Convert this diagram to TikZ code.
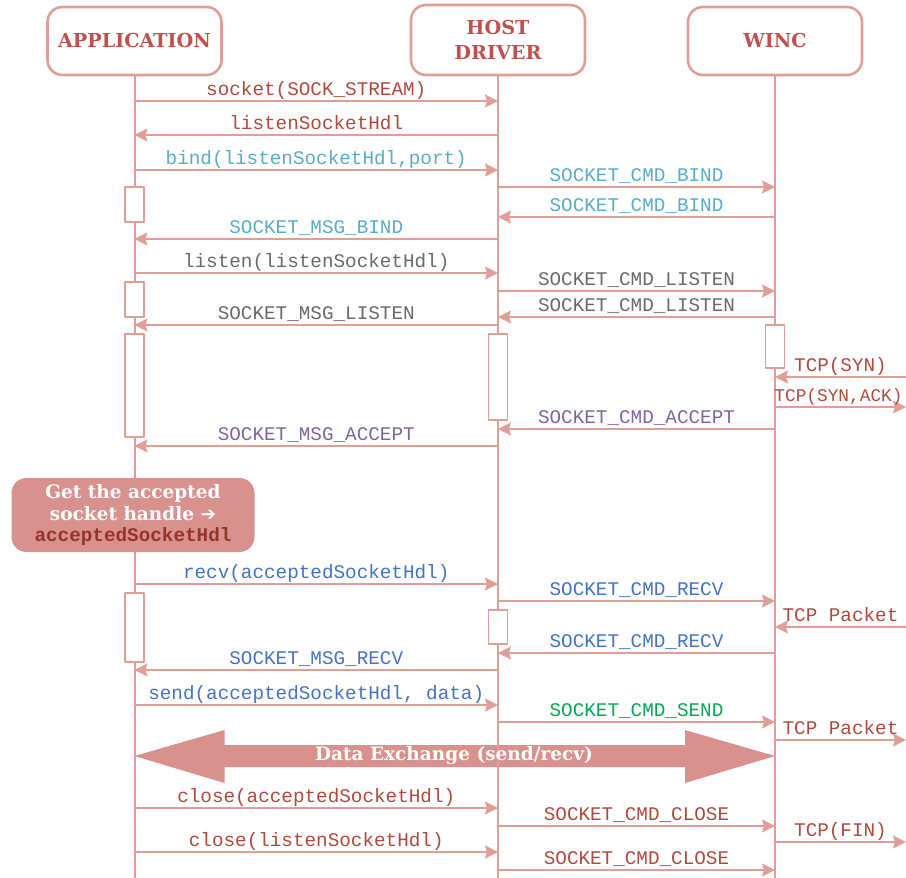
\documentclass[tikz,border=0pt]{standalone}
\usepackage{fontspec}
\setmainfont{DejaVu Serif}
\setmonofont{Liberation Mono}
\newfontfamily\arrowfont{DejaVu Sans}
\usetikzlibrary{arrows.meta}
\definecolor{LineRed}{RGB}{224,158,150}
\definecolor{BoxRed}{RGB}{216,145,140}
\definecolor{HeadRed}{RGB}{192,80,77}
\definecolor{MsgRed}{RGB}{176,72,62}
\definecolor{NoteText}{RGB}{150,52,44}
\definecolor{MsgTeal}{RGB}{88,172,198}
\definecolor{MsgGray}{RGB}{105,105,105}
\definecolor{MsgPurple}{RGB}{128,100,162}
\definecolor{MsgBlue}{RGB}{68,114,196}
\definecolor{MsgGreen}{RGB}{0,170,80}
\newcommand{\Msg}[5][MsgRed]{%
  \draw[msg] (#2 |- 0,#4) -- node[lbl,text=#1] {#5} (#3 |- 0,#4);}

\begin{document}
\begin{tikzpicture}[line cap=round,line join=round,x=1pt,y=-1pt,
  head/.style={draw=LineRed,line width=2.6pt,fill=white,rounded corners=15pt,
    minimum width=174pt,minimum height=68pt,align=center,text=HeadRed,
    font=\bfseries\fontsize{19.2}{25}\selectfont},
  note/.style={fill=BoxRed,rounded corners=15pt,minimum width=243pt,
    minimum height=74pt,align=center,text=white,inner sep=0pt,
    font=\bfseries\fontsize{18.5}{21.5}\selectfont},
  life/.style={draw=LineRed,line width=2pt},
  act/.style={draw=LineRed,line width=1.8pt,fill=white},
  msg/.style={life,-{Stealth[length=13pt,width=13pt,inset=2pt]}},
  lbl/.style={anchor=base,yshift=6pt,inner sep=0pt,
    font=\ttfamily\fontsize{19.3}{22}\selectfont}]
  \useasboundingbox (0,0) rectangle (906,878);
  \node[head] (app) at (134.5,41) {APPLICATION};
  \node[head,minimum height=70pt] (host) at (498,40) {HOST\\DRIVER};
  \node[head] (winc) at (775,41) {WINC};
  \coordinate (bottom) at (0,878);
  \coordinate (edge) at (906,0);
  \coordinate (xl) at (app |- 0,756);
  \coordinate (xr) at (winc |- 0,756);
  \fill[BoxRed] (xl) -- ++(90,-26) -- ++(0,15) -- ([xshift=-90pt]xr |- 0,745)
    -- ++(0,-15) -- (xr) -- ++(-90,27) -- ++(0,-16)
    -- ([xshift=90pt]xl |- 0,767) -- ++(0,16) -- cycle;
  \foreach \who in {app,host,winc}
  \draw[life] (\who.south) -- (\who.south |- bottom);
  \foreach \who/\a/\b in {app/187/222,app/282/317,app/334/437,host/334/420,
    winc/325/368,app/593/662,host/610/644}
  \draw[act] ([xshift=-9.5pt]\who |- 0,\a) rectangle ([xshift=9.5pt]\who |- 0,\b);
  \Msg{app}{host}{101}{socket(SOCK\_STREAM)}
  \Msg{host}{app}{135}{listenSocketHdl}
  \Msg[MsgTeal]{app}{host}{170}{bind(listenSocketHdl,port)}
  \Msg[MsgTeal]{host}{winc}{187}{SOCKET\_CMD\_BIND}
  \Msg[MsgTeal]{winc}{host}{217}{SOCKET\_CMD\_BIND}
  \Msg[MsgTeal]{host}{app}{239}{SOCKET\_MSG\_BIND}
  \Msg[MsgGray]{app}{host}{273}{listen(listenSocketHdl)}
  \Msg[MsgGray]{host}{winc}{291}{SOCKET\_CMD\_LISTEN}
  \Msg[MsgGray]{winc}{host}{317}{SOCKET\_CMD\_LISTEN}
  \Msg[MsgGray]{host}{app}{325}{SOCKET\_MSG\_LISTEN}
  \Msg{edge}{winc}{377}{TCP(SYN)}
  \Msg[MsgRed,font=\ttfamily\fontsize{17.8}{20}\selectfont,xshift=-2pt]
    {winc}{edge}{407}{TCP(SYN,ACK)}
  \Msg[MsgPurple]{winc}{host}{429}{SOCKET\_CMD\_ACCEPT}
  \Msg[MsgPurple]{host}{app}{446}{SOCKET\_MSG\_ACCEPT}
  \Msg[MsgBlue]{app}{host}{584}{recv(acceptedSocketHdl)}
  \Msg[MsgBlue]{host}{winc}{601}{SOCKET\_CMD\_RECV}
  \Msg{edge}{winc}{627}{TCP Packet}
  \Msg[MsgBlue]{winc}{host}{653}{SOCKET\_CMD\_RECV}
  \Msg[MsgBlue]{host}{app}{670}{SOCKET\_MSG\_RECV}
  \Msg[MsgBlue]{app}{host}{705}{send(acceptedSocketHdl, data)}
  \Msg[MsgGreen]{host}{winc}{722}{SOCKET\_CMD\_SEND}
  \Msg{winc}{edge}{740}{TCP Packet}
  \Msg{app}{host}{808}{close(acceptedSocketHdl)}
  \Msg{host}{winc}{826}{SOCKET\_CMD\_CLOSE}
  \Msg{winc}{edge}{842}{TCP(FIN)}
  \Msg{app}{host}{852}{close(listenSocketHdl)}
  \Msg{host}{winc}{870}{SOCKET\_CMD\_CLOSE}
  \node[note] (getsock) at (133,515) {Get the accepted\\socket handle {\arrowfont ➔}\\
    {\ttfamily\fontsize{19.3}{21.5}\selectfont\color{NoteText}acceptedSocketHdl}};
  \node[text=white,font=\bfseries\fontsize{18.5}{22}\selectfont] (xchg)
    at (454,756) {Data Exchange (send/recv)};
\end{tikzpicture}
\end{document}
